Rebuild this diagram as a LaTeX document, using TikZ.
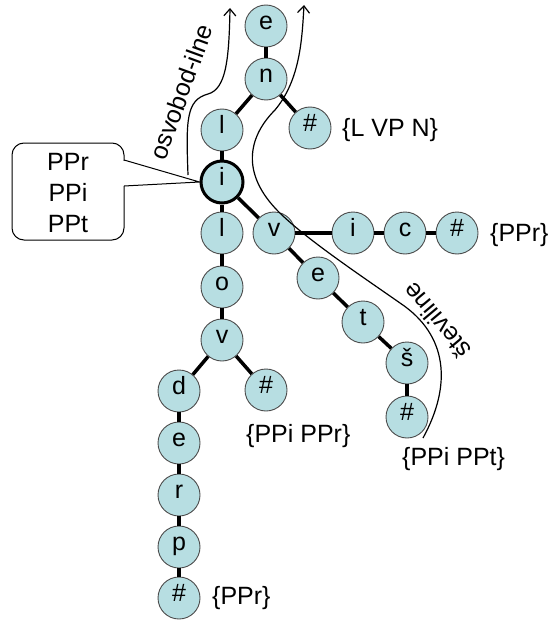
\documentclass[tikz,border=0pt]{standalone}
\usepackage{fontspec}
\setmainfont{Liberation Sans}
\usepackage{tikz}
\usetikzlibrary{arrows.meta}
\definecolor{trieblue}{RGB}{183,222,226}

\begin{document}
\begin{tikzpicture}[x=1pt,y=-1pt,
  letter/.style={circle,draw=black!70,line width=0.9pt,fill=trieblue,minimum size=42pt,inner sep=0pt,
    text height=0.75em,text depth=0.09em,font=\fontsize{25}{30}\selectfont},
  root/.style={letter,draw=black,line width=3pt},
  link/.style={line width=3.5pt},
  tag/.style={anchor=west,inner sep=0pt,font=\fontsize{25}{30}\selectfont},
  path/.style={line width=1.2pt,-{Straight Barb[length=7pt,width=12pt]}}]
\useasboundingbox (0,0) rectangle (556,623);
\node [letter] (e1) at (266,26) {e};
\node [letter] (n1) at (266,79) {n};
\node [letter] (l1) at (222,130) {l};
\node [letter] (h1) at (310,128) {\#};
\node [root] (i1) at (222,182) {i};
\node [letter] (l2) at (222,233) {l};
\node [letter] (v1) at (274,233) {v};
\node [letter] (i2) at (353,233) {i};
\node [letter] (c1) at (405,233) {c};
\node [letter] (h2) at (457,233) {\#};
\node [letter] (e2) at (318,278) {e};
\node [letter] (t1) at (363,322) {t};
\node [letter] (s1) at (407,363) {š};
\node [letter] (h4) at (407,417) {\#};
\node [letter] (o1) at (222,287) {o};
\node [letter] (v2) at (222,340) {v};
\node [letter] (d1) at (179,391) {d};
\node [letter] (h3) at (266,390) {\#};
\node [letter] (e3) at (179,443) {e};
\node [letter] (r1) at (179,495) {r};
\node [letter] (p1) at (179,547) {p};
\node [letter] (h5) at (179,598) {\#};
\draw [link] (e1) -- (n1);
\draw [link] (n1) -- (l1);
\draw [link] (n1) -- (h1);
\draw [link] (l1) -- (i1);
\draw [link] (i1) -- (l2);
\draw [link] (i1) -- (v1);
\draw [link] (v1) -- (i2);
\draw [link] (i2) -- (c1);
\draw [link] (c1) -- (h2);
\draw [link] (v1) -- (e2);
\draw [link] (e2) -- (t1);
\draw [link] (t1) -- (s1);
\draw [link] (s1) -- (h4);
\draw [link] (l2) -- (o1);
\draw [link] (o1) -- (v2);
\draw [link] (v2) -- (d1);
\draw [link] (v2) -- (h3);
\draw [link] (d1) -- (e3);
\draw [link] (e3) -- (r1);
\draw [link] (r1) -- (p1);
\draw [link] (p1) -- (h5);
\node [tag] (t1set) at (342,130) {\{L VP N\}};
\node [tag] (t2set) at (490,235) {\{PPr\}};
\node [tag] (t3set) at (246,436) {\{PPi PPr\}};
\node [tag] (t4set) at (402,459) {\{PPi PPt\}};
\node [tag] (t5set) at (212,598) {\{PPr\}};
\draw [line width=1pt,rounded corners=12pt] (12,143) rectangle (124,240);
\fill [white] (122,160.5) rectangle (126,185.5);
\draw [line width=1pt] (124,160) -- (i1.west) -- (124,186);
\node [align=center,inner sep=0pt,font=\fontsize{25}{31}\selectfont] (bubble) at (68,193) {PPr\\PPi\\PPt};
\draw [path] (188,175) .. controls (186,120) and (186,100) .. (208,94)
  .. controls (226,89) and (229,60) .. (230,8);
\draw [path] (423,438) .. controls (452,385) and (448,335) .. (400,303)
  .. controls (360,275) and (300,235) .. (275,208)
  .. controls (240,170) and (250,135) .. (275,110)
  .. controls (300,80) and (302,40) .. (304,5);
\node [rotate=70,inner sep=0pt,font=\fontsize{25}{30}\selectfont] (free) at (181,92) {osvobod-ilne};
\node [rotate=130,inner sep=0pt,font=\fontsize{25}{30}\selectfont] (num) at (437,321) {številine};
\end{tikzpicture}
\end{document}
